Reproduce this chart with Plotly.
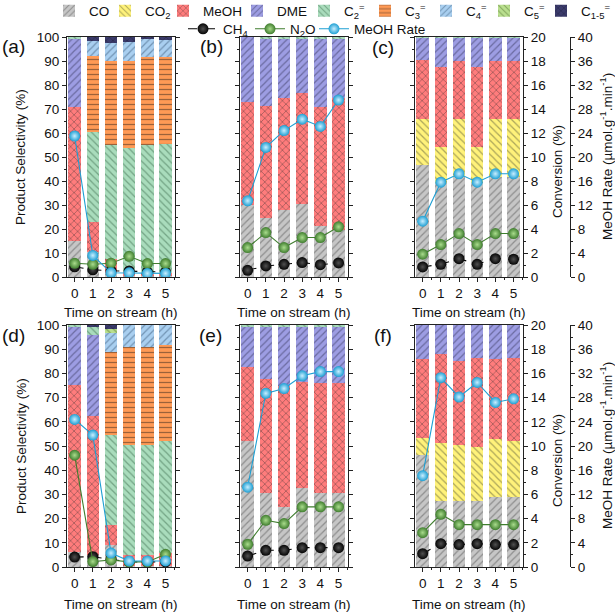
import plotly.graph_objects as go

TIMES = [0, 1, 2, 3, 4, 5]

# ---------------- Product selectivity (%) -----------------
# panel (a)
a_CO   = [15.0, 10.5, 1.5, 0.5, 0.5, 0.5]
a_CO2  = [0, 0, 0, 0, 0, 0]
a_MeOH = [56.0, 12.5, 6.0, 1.5, 1.0, 1.0]
a_DME  = [28.3, 0, 0, 0, 0, 0]
a_C2   = [0.7, 37.6, 47.5, 51.6, 53.5, 53.8]
a_C3   = [0, 31.5, 34.9, 36.4, 36.6, 36.3]
a_C4   = [0, 6.2, 7.7, 8.0, 7.4, 7.0]
a_C5   = [0, 0, 0, 0, 0, 0]
a_C15  = [0, 1.7, 2.4, 2.0, 1.0, 1.4]
# panel (b)
b_CO   = [29.9, 24.4, 28.1, 30.6, 21.2, 19.5]
b_CO2  = [0, 0, 0, 0, 0, 0]
b_MeOH = [43.2, 46.9, 46.4, 46.0, 49.6, 55.0]
b_DME  = [26.9, 27.9, 24.7, 22.6, 28.4, 24.7]
b_C2   = [0, 0.8, 0.8, 0.8, 0.8, 0.8]
b_C3   = [0, 0, 0, 0, 0, 0]
b_C4   = [0, 0, 0, 0, 0, 0]
b_C5   = [0, 0, 0, 0, 0, 0]
b_C15  = [0, 0, 0, 0, 0, 0]
# panel (c)
c_CO   = [46.7, 39.0, 41.8, 39.0, 41.8, 41.8]
c_CO2  = [19.0, 15.0, 23.9, 15.0, 23.9, 23.9]
c_MeOH = [24.8, 33.7, 24.5, 33.7, 24.5, 24.5]
c_DME  = [9.1, 11.9, 9.4, 11.9, 9.4, 9.4]
c_C2   = [0.4, 0.4, 0.4, 0.4, 0.4, 0.4]
c_C3   = [0, 0, 0, 0, 0, 0]
c_C4   = [0, 0, 0, 0, 0, 0]
c_C5   = [0, 0, 0, 0, 0, 0]
c_C15  = [0, 0, 0, 0, 0, 0]
# panel (d)
d_CO   = [6.2, 4.8, 9.0, 0.3, 0.3, 0.3]
d_CO2  = [0, 0, 0, 0, 0, 0]
d_MeOH = [69.0, 57.5, 8.2, 4.5, 4.5, 5.6]
d_DME  = [24.1, 33.6, 0, 0, 0, 0]
d_C2   = [0.7, 3.1, 37.3, 45.5, 45.7, 46.2]
d_C3   = [0, 0, 34.5, 40.7, 40.3, 39.6]
d_C4   = [0, 0, 7.8, 9.0, 9.2, 8.3]
d_C5   = [0, 0, 1.4, 0, 0, 0]
d_C15  = [0, 1.0, 1.8, 0, 0, 0]
# panel (e)
e_CO   = [52.1, 30.6, 24.8, 32.8, 30.6, 30.6]
e_CO2  = [0, 0, 0, 0, 0, 0]
e_MeOH = [30.7, 47.1, 50.0, 43.8, 45.3, 45.3]
e_DME  = [16.5, 21.6, 24.5, 22.7, 23.4, 23.4]
e_C2   = [0.7, 0.7, 0.7, 0.7, 0.7, 0.7]
e_C3   = [0, 0, 0, 0, 0, 0]
e_C4   = [0, 0, 0, 0, 0, 0]
e_C5   = [0, 0, 0, 0, 0, 0]
e_C15  = [0, 0, 0, 0, 0, 0]
# panel (f)
f_CO   = [46.2, 27.2, 27.2, 27.2, 29.0, 29.0]
f_CO2  = [7.2, 24.1, 23.4, 22.2, 23.7, 23.0]
f_MeOH = [32.4, 36.6, 34.6, 37.1, 33.1, 34.5]
f_DME  = [14.2, 12.1, 14.8, 13.5, 14.2, 13.5]
f_C2   = [0, 0, 0, 0, 0, 0]
f_C3   = [0, 0, 0, 0, 0, 0]
f_C4   = [0, 0, 0, 0, 0, 0]
f_C5   = [0, 0, 0, 0, 0, 0]
f_C15  = [0, 0, 0, 0, 0, 0]

# ---------------- Conversion (%) and MeOH rate -----------------
a_CH4 = [0.85, 0.6, 0.52, 0.5, 0.42, 0.42]
a_N2O = [1.14, 1.06, 1.15, 1.72, 1.12, 1.12]
a_RATE = [23.5, 3.6, 0.7, 0.7, 0.6, 0.6]
b_CH4 = [0.56, 0.92, 1.06, 1.2, 1.03, 1.17]
b_N2O = [2.45, 3.7, 2.45, 3.29, 3.29, 4.18]
b_RATE = [12.7, 21.6, 24.4, 26.3, 25.1, 29.5]
c_CH4 = [0.84, 1.06, 1.53, 1.06, 1.53, 1.48]
c_N2O = [1.9, 2.7, 3.62, 2.7, 3.62, 3.62]
c_RATE = [9.3, 15.8, 17.2, 15.8, 17.2, 17.2]
d_CH4 = [0.82, 0.85, 0.64, 0.42, 0.42, 0.42]
d_N2O = [9.24, 0.45, 0.58, 0.42, 0.42, 1.05]
d_RATE = [24.4, 21.8, 2.3, 1.0, 1.0, 1.0]
e_CH4 = [0.91, 1.38, 1.38, 1.6, 1.6, 1.6]
e_N2O = [1.88, 3.86, 3.59, 4.97, 4.97, 4.97]
e_RATE = [13.2, 28.7, 29.5, 31.6, 32.3, 32.3]
f_CH4 = [1.1, 1.93, 1.85, 1.93, 1.85, 1.85]
f_N2O = [2.84, 4.36, 3.5, 3.5, 3.5, 3.5]
f_RATE = [15.1, 31.3, 28.1, 30.5, 27.2, 27.8]

PANEL_LABELS = ["(a)", "(b)", "(c)", "(d)", "(e)", "(f)"]
CAT_NAMES = ["CO", "CO<sub>2</sub>", "MeOH", "DME", "C<sub>2</sub><sup>=</sup>",
             "C<sub>3</sub><sup>=</sup>", "C<sub>4</sub><sup>=</sup>",
             "C<sub>5</sub><sup>=</sup>", "C<sub>1-5</sub><sup>=</sup>"]
LINE_NAMES = ["CH<sub>4</sub>", "N<sub>2</sub>O", "MeOH Rate"]

G = globals()
CAT_KEYS = ["CO", "CO2", "MeOH", "DME", "C2", "C3", "C4", "C5", "C15"]
SEL = [[G[f"{p}_{k}"] for k in CAT_KEYS] for p in "abcdef"]
LINES = [[G[f"{p}_{k}"] for k in ["CH4", "N2O", "RATE"]] for p in "abcdef"]

# ---------------- styles -----------------
CAT_STYLE = [
    ("#c6c6c6", "#555555", "/"),
    ("#fff27a", "#5a5a3a", "\\"),
    ("#ff7c7c", "#2a2a2a", "x"),
    ("#9d9de3", "#3a3a60", "/"),
    ("#a9dcbc", "#3d6b4d", "\\"),
    ("#ff9a55", "#3a2a20", "-"),
    ("#a9cff0", "#3c5a78", "/"),
    ("#b9df8e", "#4b6b2b", "\\"),
    ("#3b3b6b", "#15152a", "x"),
]
LINE_STYLE = [
    ("#050505", "#505050", "dash"),
    ("#3f7d2e", "#a9dc8c", "solid"),
    ("#1d9fd3", "#c8eeff", "solid"),
]

W, H = 615, 613
COLS_PX = [(67, 175), (240, 348), (415, 523)]
ROWS_PX = [(37, 277), (325, 567)]
RATE_AXIS_PX = 570

FONT = "Liberation Sans, Arial, sans-serif"
AX = "#222222"
TXT = "#111111"

fig = go.Figure()
layout = {}

for i in range(6):
    n = i + 1
    r, c = divmod(i, 3)
    x0, x1 = COLS_PX[c]
    y0, y1 = ROWS_PX[r]
    xd = [x0 / W, x1 / W]
    yd = [1 - y1 / H, 1 - y0 / H]
    xs = "" if n == 1 else str(n)
    xname, ysel, yconv, yrate = f"x{xs}", f"y{xs}", f"y{n + 6}", f"y{n + 12}"

    layout[f"xaxis{xs}"] = dict(
        domain=xd, anchor=ysel, range=[-0.42, 5.52], tick0=0, dtick=1,
        ticks="outside", ticklen=4, tickcolor=AX, showline=True, linecolor=AX,
        linewidth=1, mirror=True, showgrid=False, zeroline=False,
        minor=dict(dtick=0.5, ticks="outside", ticklen=2, tickcolor=AX),
        tickfont=dict(family=FONT, size=13.5, color=TXT),
    )
    layout[f"yaxis{xs}"] = dict(
        domain=yd, anchor=xname, range=[0, 100], dtick=10, ticks="outside",
        ticklen=4, tickcolor=AX, showline=True, linecolor=AX, linewidth=1,
        showgrid=False, zeroline=False, showticklabels=(c == 0),
        minor=dict(dtick=5, ticks="outside", ticklen=2, tickcolor=AX),
        tickfont=dict(family=FONT, size=13.5, color=TXT),
    )
    layout[f"yaxis{n + 6}"] = dict(
        overlaying=ysel, anchor=xname, side="right", range=[0, 20], dtick=2,
        ticks="outside", ticklen=4, tickcolor=AX, showline=True, linecolor=AX,
        linewidth=1, showgrid=False, zeroline=False, showticklabels=(c == 2),
        minor=dict(dtick=1, ticks="outside", ticklen=2, tickcolor=AX),
        tickfont=dict(family=FONT, size=13.5, color=TXT),
    )
    if c == 2:
        layout[f"yaxis{n + 12}"] = dict(
            overlaying=ysel, anchor="free", position=RATE_AXIS_PX / W, side="right",
            range=[0, 40], dtick=4, ticks="outside", ticklen=4, tickcolor=AX,
            showline=True, linecolor=AX, linewidth=1, showgrid=False, zeroline=False,
            minor=dict(dtick=2, ticks="outside", ticklen=2, tickcolor=AX),
            tickfont=dict(family=FONT, size=13.5, color=TXT),
        )
    else:
        layout[f"yaxis{n + 12}"] = dict(overlaying=ysel, anchor=xname, side="right",
                                       range=[0, 40], visible=False)

    for k, vals in enumerate(SEL[i]):
        bg, fg, shape = CAT_STYLE[k]
        fig.add_trace(go.Bar(
            x=TIMES, y=vals, xaxis=xname, yaxis=ysel, width=0.68,
            name=CAT_NAMES[k], legendgroup=CAT_KEYS[k], showlegend=(i == 0),
            legend="legend" if k == 0 else f"legend{k + 1}",
            marker=dict(color=bg, line=dict(width=0),
                        pattern=dict(shape=shape, fgcolor=fg, bgcolor=bg, size=5,
                                     solidity=0.25, fillmode="overlay")),
        ))

    for k, vals in enumerate(LINES[i]):
        col, hl, dash = LINE_STYLE[k]
        fig.add_trace(go.Scatter(
            x=TIMES, y=vals, xaxis=xname, yaxis=(yrate if k == 2 else yconv),
            mode="lines+markers", name=LINE_NAMES[k], showlegend=(i == 0),
            legend=f"legend{10 + k}", legendgroup=LINE_NAMES[k],
            line=dict(color=col, width=1.1, dash=dash),
            marker=dict(size=11, color=col, line=dict(width=0),
                        gradient=dict(type="radial", color=hl)),
        ))

# ---------------- legends -----------------
BAR_LEG_X = [49, 105, 163, 237, 304, 365, 426, 484, 541]
LINE_LEG_X = [183, 250, 314]
for k, px in enumerate(BAR_LEG_X):
    key = "legend" if k == 0 else f"legend{k + 1}"
    layout[key] = dict(x=px / W, y=1 - 11 / H, xanchor="left", yanchor="middle",
                       orientation="h", bgcolor="rgba(0,0,0,0)", itemwidth=30,
                       font=dict(family=FONT, size=13.5, color=TXT))
for k, px in enumerate(LINE_LEG_X):
    layout[f"legend{10 + k}"] = dict(x=px / W, y=1 - 29 / H, xanchor="left",
                                    yanchor="middle", orientation="h",
                                    bgcolor="rgba(0,0,0,0)", itemwidth=30,
                                    font=dict(family=FONT, size=13.5, color=TXT))

# ---------------- text annotations -----------------
ann = []


def note(text, px, py, size=13.5, angle=0):
    ann.append(dict(text=text, x=px / W, y=1 - py / H, xref="paper", yref="paper",
                    xanchor="center", yanchor="middle", showarrow=False,
                    textangle=angle, font=dict(family=FONT, size=size, color=TXT)))


LABEL_POS = [(13, 46), (211, 46), (383, 47), (13, 335), (210, 335), (383, 335)]
for lab, (px, py) in zip(PANEL_LABELS, LABEL_POS):
    note(lab, px, py, size=19)
for r in range(2):
    y0, y1 = ROWS_PX[r]
    yc = (y0 + y1) / 2
    note("Product Selectivity (%)", 21, yc, angle=-90)
    note("Conversion (%)", 557, yc + 15, angle=-90)
    note("MeOH Rate (µmol.g<sup>-1</sup>.min<sup>-1</sup>)", 606, yc, angle=-90)
    ty = 313 if r == 0 else 604
    for c in range(3):
        x0, x1 = COLS_PX[c]
        note("Time on stream (h)", (x0 + x1) / 2, ty)

fig.update_layout(
    width=W, height=H, margin=dict(l=0, r=0, t=0, b=0, autoexpand=False),
    paper_bgcolor="white", plot_bgcolor="white", barmode="stack",
    annotations=ann, **layout,
)

fig.write_html(
    "out.html",
    config={"displayModeBar": False},
    post_script="document.body.style.margin='0';"
                "document.documentElement.style.overflow='hidden';",
)
